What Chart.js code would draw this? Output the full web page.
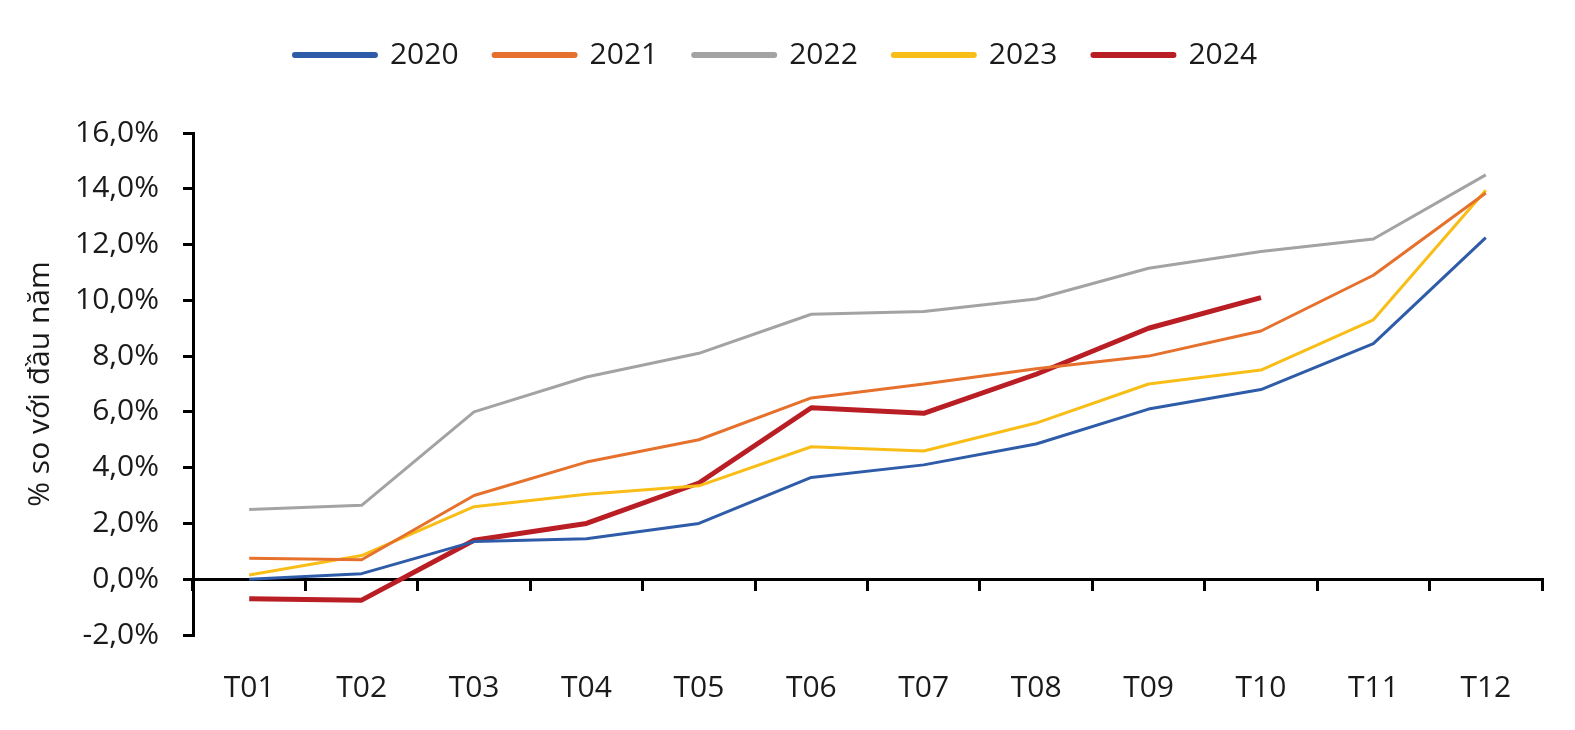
<!DOCTYPE html>
<html>
<head>
<meta charset="utf-8">
<script src="https://cdn.jsdelivr.net/npm/chart.js@4.4.1/dist/chart.umd.min.js"></script>
<style>
  html, body { margin: 0; padding: 0; background: #fff; }
  #wrap { width: 1575px; height: 730px; }
</style>
</head>
<body>
<div id="wrap"><canvas id="chartCpi" width="1575" height="730"></canvas></div>
<script>
// ---- Data ----
const months = ['T01', 'T02', 'T03', 'T04', 'T05', 'T06', 'T07', 'T08', 'T09', 'T10', 'T11', 'T12'];
const years  = ['2020', '2021', '2022', '2023', '2024'];

const y2020 = [0.0, 0.2, 1.35, 1.45, 2.0, 3.65, 4.1, 4.85, 6.1, 6.8, 8.45, 12.25];
const y2021 = [0.75, 0.7, 3.0, 4.2, 5.0, 6.5, 7.0, 7.55, 8.0, 8.9, 10.9, 13.85];
const y2022 = [2.5, 2.65, 6.0, 7.25, 8.1, 9.5, 9.6, 10.05, 11.15, 11.75, 12.2, 14.5];
const y2023 = [0.15, 0.85, 2.6, 3.05, 3.35, 4.75, 4.6, 5.6, 7.0, 7.5, 9.3, 13.95];
const y2024 = [-0.7, -0.75, 1.4, 2.0, 3.45, 6.15, 5.95, 7.35, 9.0, 10.1];

const yTicks = [-2, 0, 2, 4, 6, 8, 10, 12, 14, 16];

// ---- Styles ----
const COLORS  = ['#2F5CA9', '#E5712D', '#A3A3A3', '#F8BE17', '#B91E25'];
const WIDTHS  = [3, 3, 3, 3, 5];
const FONT    = "'Open Sans', 'Noto Sans', sans-serif";
const INK     = '#1a1a1a';

const series = [y2020, y2021, y2022, y2023, y2024];

// legend needs a fixed height so the plot starts where the original does
const legendHeight = {
  id: 'legendHeight',
  beforeInit: function (chart) {
    const fit = chart.legend.fit;
    chart.legend.fit = function () {
      fit.call(this);
      this.height = 129;
    };
  }
};

new Chart(document.getElementById('chartCpi').getContext('2d'), {
  type: 'line',
  data: {
    labels: months,
    datasets: years.map(function (y, i) {
      return {
        label: y,
        data: series[i],
        borderColor: COLORS[i],
        backgroundColor: COLORS[i],
        borderWidth: WIDTHS[i],
        pointRadius: 0,
        pointHoverRadius: 0,
        tension: 0,
        borderJoinStyle: 'round'
      };
    })
  },
  plugins: [legendHeight],
  options: {
    responsive: false,
    animation: false,
    layout: { padding: { left: 10, right: 33, top: 4, bottom: 32 } },
    plugins: {
      tooltip: { enabled: false },
      legend: {
        position: 'top',
        labels: {
          color: INK,
          font: { family: FONT, size: 30 },
          usePointStyle: true,
          pointStyle: 'line',
          pointStyleWidth: 80,
          padding: 36,
          generateLabels: function (chart) {
            return Chart.defaults.plugins.legend.labels.generateLabels(chart).map(function (item) {
              item.lineWidth = 6;
              item.lineCap = 'round';
              return item;
            });
          }
        }
      }
    },
    scales: {
      x: {
        type: 'category',
        offset: true,
        afterFit: function (scale) { scale.height = 63; },
        grid: { display: false },
        border: { display: false },
        ticks: { color: INK, font: { family: FONT, size: 30 }, padding: 27, maxRotation: 0 }
      },
      // zero line with the month separators, drawn across the plot at y = 0
      xZero: {
        type: 'category',
        axis: 'x',
        labels: months,
        position: { y: 0 },
        offset: true,
        afterFit: function (scale) { scale.height = 0; },
        grid: { drawOnChartArea: false, offset: true, tickLength: 10, color: '#000', lineWidth: 3 },
        border: { color: '#000', width: 3 },
        ticks: { display: false }
      },
      y: {
        min: -2,
        max: 16,
        afterFit: function (scale) { scale.width = 183; },
        afterBuildTicks: function (scale) {
          scale.ticks = yTicks.map(function (v) { return { value: v }; });
        },
        grid: { drawOnChartArea: false, tickLength: 10, color: '#000', lineWidth: 3 },
        border: { color: '#000', width: 3 },
        ticks: {
          color: INK,
          font: { family: FONT, size: 30 },
          padding: 24,
          callback: function (v) { return v.toFixed(1).replace('.', ',') + '%'; }
        },
        title: {
          display: true,
          text: '% so với đầu năm',
          color: INK,
          font: { family: FONT, size: 30 },
          padding: { top: 12, bottom: 0 }
        }
      }
    }
  }
});
</script>
</body>
</html>
